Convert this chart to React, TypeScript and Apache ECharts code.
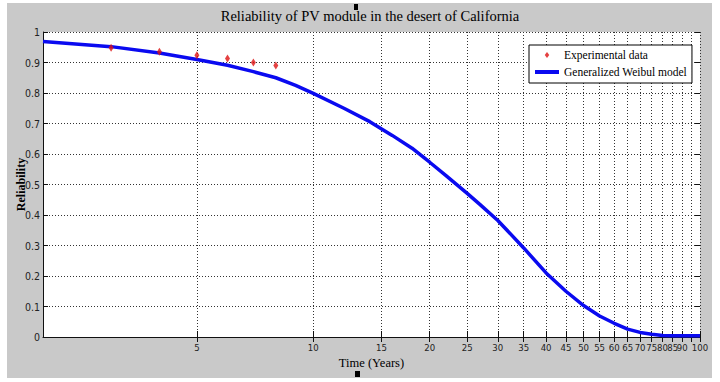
import React, { useEffect, useRef } from "react";
import * as echarts from "echarts";

// ---- Data ----
const titleText = "Reliability of PV module in the desert of California";
const xAxisName = "Time (Years)";
const yAxisName = "Reliability";
const expName = "Experimental data";
const modelName = "Generalized Weibul model";

const xMin = 2;
const xMax = 100;
const xTickValues = [5, 10, 15, 20, 25, 30, 35, 40, 45, 50, 55, 60, 65, 70, 75, 80, 85, 90, 95, 100];

const expYears = [3, 4, 5, 6, 7, 8];
const expReliability = [0.948, 0.935, 0.924, 0.913, 0.9, 0.89];

const modelYears = [2, 3, 4, 5, 6, 7, 8, 9, 10, 12, 14, 16, 18, 20, 22, 25, 27, 30, 35, 40, 45, 50, 55, 60, 65, 70, 75, 80, 85, 90, 95, 100];
const modelReliability = [
  0.969, 0.952, 0.931, 0.91, 0.891, 0.87, 0.85, 0.825, 0.799, 0.75, 0.706, 0.661, 0.619, 0.573, 0.53, 0.471,
  0.434, 0.382, 0.292, 0.21, 0.15, 0.103, 0.069, 0.045, 0.026, 0.015, 0.009, 0.005, 0.004, 0.004, 0.004, 0.004,
];

const SERIF = "'Liberation Serif', 'Times New Roman', serif";
const NARROW = "'Liberation Sans Narrow', 'Arial Narrow', 'DejaVu Sans Condensed', sans-serif";

const lg = (v: number) => Math.log10(v);

export default function App() {
  const ref = useRef<HTMLDivElement>(null);

  useEffect(() => {
    if (!ref.current) return;
    const chart = echarts.init(ref.current, null, { renderer: "svg" });

    const tickLogs = xTickValues.map(lg);
    const gridDash = { color: "#333", width: 1, type: [1, 2] as any };

    const option: any = {
      animation: false,
      backgroundColor: "#ffffff",
      title: {
        text: titleText,
        left: 370,
        top: 8,
        padding: 0,
        textAlign: "center",
        textStyle: { fontFamily: SERIF, fontSize: 14.5, fontWeight: "normal", color: "#000" },
      },
      graphic: [
        { type: "rect", z: -10, silent: true, shape: { x: 7, y: 3, width: 705, height: 375 }, style: { fill: "#c9c9c9" } },
        { type: "rect", z: 10, silent: true, shape: { x: 354, y: 4, width: 4, height: 6 }, style: { fill: "#000" } },
        { type: "rect", z: 10, silent: true, shape: { x: 355, y: 371, width: 5, height: 6 }, style: { fill: "#000" } },
      ],
      legend: {
        orient: "vertical",
        left: 529,
        top: 45,
        padding: [4, 5, 5, 6],
        itemGap: 5,
        itemWidth: 24,
        itemHeight: 6,
        itemTextGap: 5,
        symbolKeepAspect: true,
        backgroundColor: "#fff",
        borderColor: "#000",
        borderWidth: 1,
        borderRadius: 0,
        textStyle: { fontFamily: SERIF, fontSize: 11.5, color: "#000" },
        data: [
          { name: expName, icon: "path://M0,-4L3,0L0,4L-3,0Z" },
          { name: modelName, icon: "path://M0,0L24,0L24,4L0,4Z" },
        ],
      },
      grid: {
        show: true,
        left: 43,
        right: 20,
        top: 32,
        bottom: 45,
        backgroundColor: "#fff",
        borderWidth: 0,
        containLabel: false,
      },
      xAxis: [
        {
          type: "value",
          position: "bottom",
          min: lg(xMin),
          max: lg(xMax),
          name: xAxisName,
          nameLocation: "middle",
          nameGap: 18,
          nameTextStyle: { fontFamily: SERIF, fontSize: 12.5, color: "#000" },
          axisLine: { show: true, onZero: false, lineStyle: { color: "#111", width: 1 } },
          axisTick: { show: true, inside: true, length: 6, customValues: tickLogs, lineStyle: { color: "#111" } },
          axisLabel: {
            show: true,
            customValues: tickLogs,
            showMaxLabel: true,
            showMinLabel: true,
            hideOverlap: false,
            margin: 5,
            fontFamily: NARROW,
            fontSize: 9.5,
            color: "#222",
            formatter: (v: number) => String(Math.round(Math.pow(10, v))),
          },
          splitLine: { show: true, lineStyle: gridDash },
        },
        {
          type: "value",
          position: "top",
          min: lg(xMin),
          max: lg(xMax),
          axisLine: { show: false },
          axisTick: { show: true, inside: true, length: 5, customValues: tickLogs, lineStyle: { color: "#111" } },
          axisLabel: { show: false },
          splitLine: { show: false },
        },
      ],
      yAxis: [
        {
          type: "value",
          position: "left",
          min: 0,
          max: 1,
          interval: 0.1,
          name: yAxisName,
          nameLocation: "middle",
          nameRotate: 90,
          nameGap: 16,
          nameMoveOverlap: false,
          nameTextStyle: { fontFamily: SERIF, fontSize: 12, fontWeight: "bold", color: "#000" },
          axisLine: { show: true, lineStyle: { color: "#111", width: 1 } },
          axisTick: { show: true, inside: true, length: 5, lineStyle: { color: "#111" } },
          axisLabel: {
            margin: 3,
            fontFamily: NARROW,
            fontSize: 10.5,
            color: "#222",
            formatter: (v: number) => (v === 0 ? "0" : Math.abs(v - 1) < 1e-9 ? "1" : v.toFixed(1)),
          },
          splitLine: { show: true, lineStyle: gridDash },
        },
        {
          type: "value",
          position: "right",
          min: 0,
          max: 1,
          interval: 0.1,
          axisLine: { show: false },
          axisTick: { show: true, inside: true, length: 5, lineStyle: { color: "#111" } },
          axisLabel: { show: false },
          splitLine: { show: false },
        },
      ],
      series: [
        {
          name: modelName,
          type: "line",
          xAxisIndex: 0,
          yAxisIndex: 0,
          symbol: "none",
          smooth: false,
          z: 3,
          lineStyle: { color: "#0a0af0", width: 3.5 },
          itemStyle: { color: "#0a0af0" },
          data: modelYears.map((x, i) => [lg(x), modelReliability[i]]),
        },
        {
          name: expName,
          type: "scatter",
          xAxisIndex: 0,
          yAxisIndex: 0,
          symbol: "diamond",
          symbolSize: [5, 8],
          z: 4,
          itemStyle: { color: "#dd1111" },
          data: expYears.map((x, i) => [lg(x), expReliability[i]]),
        },
      ],
    };

    chart.setOption(option);
    return () => chart.dispose();
  }, []);

  return <div ref={ref} style={{ position: "fixed", left: 0, top: 0, width: 720, height: 382 }} />;
}
